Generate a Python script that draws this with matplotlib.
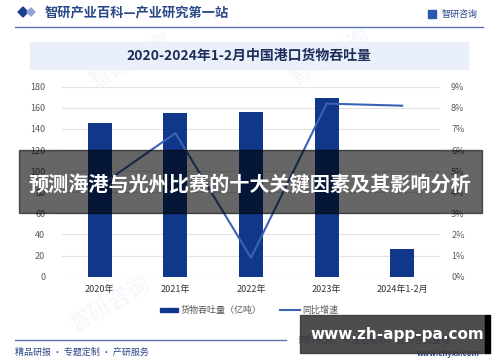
import matplotlib
matplotlib.use("Agg")
import matplotlib.pyplot as plt
from matplotlib.patches import Rectangle, Polygon
from matplotlib.lines import Line2D
import numpy as np

plt.rcParams['font.family'] = ['Noto Sans CJK SC', 'DejaVu Sans']

# data
categories = ["2020年", "2021年", "2022年", "2023年", "2024年1-2月"]
throughput = [145.5, 155.0, 156.5, 169.5, 26.0]   # 亿吨
growth = [4.3, 6.8, 0.9, 8.2, 8.1]               # %
left_ticks = [0, 20, 40, 60, 80, 100, 120, 140, 160, 180]
right_ticks = [0, 1, 2, 3, 4, 5, 6, 7, 8, 9]

W, H = 500, 362
NAVY = "#10378a"
LINE = "#3b63b5"
DARKBLUE = "#2a4788"

fig = plt.figure(figsize=(W / 100, H / 100), dpi=100)
fig.patch.set_facecolor("white")


def fx(px):
    return px / W


def fy(py):
    return 1 - py / H


# faint watermarks (only in empty areas)
for (wx, wy) in [(130, 62), (330, 58), (110, 305)]:
    fig.text(fx(wx), fy(wy), "智研咨询", fontsize=16, color="#f3f6fb",
             rotation=30, ha="center", va="center", zorder=0)

# header
fig.patches.append(Polygon([[fx(18), fy(12)], [fx(23), fy(7)], [fx(28), fy(12)], [fx(23), fy(17)]],
                           closed=True, transform=fig.transFigure, color="#1c3f8f", zorder=2))
fig.patches.append(Polygon([[fx(27), fy(12)], [fx(31), fy(8)], [fx(35), fy(12)], [fx(31), fy(16)]],
                           closed=True, transform=fig.transFigure, color="#8da4d4", zorder=2))
fig.text(fx(45), fy(13), "智研产业百科—产业研究第一站", fontsize=9.5, color=DARKBLUE,
         ha="left", va="center", fontweight="bold")
fig.text(fx(442), fy(14), "智研咨询", fontsize=6.5, color=DARKBLUE, ha="left", va="center")
fig.patches.append(Rectangle((fx(428), fy(18)), fx(8), 8 / H, transform=fig.transFigure,
                             color="#2a57b0", zorder=2))
fig.lines.append(Line2D([fx(15), fx(483)], [fy(27), fy(27)], transform=fig.transFigure,
                        color="#5a76b0", lw=1))

# title box
fig.patches.append(Rectangle((fx(30), fy(69)), fx(438), 27 / H, transform=fig.transFigure,
                             color="#e9f0fa", zorder=1))
fig.text(fx(249), fy(56), "2020-2024年1-2月中国港口货物吞吐量", fontsize=10, color="#1f2d5a",
         ha="center", va="center", fontweight="bold", zorder=3)

# main chart
ax = fig.add_axes([fx(62), fy(276.7), fx(378), (276.7 - 86.7) / H])
x = np.arange(len(categories))
ax.bar(x, throughput, width=0.32, color=NAVY, zorder=2)
ax.set_ylim(0, 180)
ax.set_yticks(left_ticks)
ax.set_xlim(-0.5, len(categories) - 0.5)
ax.set_xticks(x)
ax.set_xticklabels(categories, fontsize=6.5, color="#333333")
ax.tick_params(axis="y", labelsize=6.5, labelcolor="#595959", length=0, pad=12)
ax.tick_params(axis="x", length=0, pad=6)
ax.grid(axis="y", color="#e3e3e3", lw=0.8, zorder=0)
for s in ax.spines.values():
    s.set_visible(False)
ax.patch.set_alpha(0)

ax2 = ax.twinx()
ax2.plot(x, growth, color=LINE, lw=1.5, zorder=3)
ax2.set_ylim(0, 9)
ax2.set_yticks(right_ticks)
ax2.set_yticklabels([f"{t}%" for t in right_ticks])
ax2.tick_params(axis="y", labelsize=6.5, labelcolor="#595959", length=0, pad=8)
for s in ax2.spines.values():
    s.set_visible(False)

# legend
fig.patches.append(Rectangle((fx(160), fy(312)), fx(18), 4 / H, transform=fig.transFigure,
                             color=NAVY))
fig.text(fx(181), fy(310), "货物吞吐量（亿吨）", fontsize=6.5, color="#595959", ha="left", va="center")
fig.lines.append(Line2D([fx(280), fx(300)], [fy(310), fy(310)], transform=fig.transFigure,
                        color=LINE, lw=1.5))
fig.text(fx(302), fy(310), "同比增速", fontsize=6.5, color="#595959", ha="left", va="center")

# footer
fig.lines.append(Line2D([fx(15), fx(286)], [fy(340), fy(340)], transform=fig.transFigure,
                        color="#5a76b0", lw=1))
fig.text(fx(15), fy(352), "精品研报 · 专题定制 · 产研服务", fontsize=6.5, color=DARKBLUE,
         ha="left", va="center")
fig.text(fx(298), fy(340), "资料来源：交通运输部，智研咨询整理", fontsize=6.5, color=DARKBLUE,
         ha="left", va="center")
fig.text(fx(480), fy(353), "www.chyxx.com", fontsize=5.5, color=DARKBLUE,
         ha="right", va="center", fontweight="bold")

# dark overlay band with headline
fig.patches.append(Rectangle((fx(19), fy(213)), fx(463), 63 / H, transform=fig.transFigure,
                             color="black", alpha=0.6, zorder=10))
fig.text(fx(250), fy(185), "预测海港与光州比赛的十大关键因素及其影响分析", fontsize=14.5,
         color="white", fontweight="bold", ha="center", va="center", zorder=11)

# url box
fig.patches.append(Rectangle((fx(300), fy(353)), fx(185), 38 / H, transform=fig.transFigure,
                             color="#3a3a3a", alpha=0.9, zorder=10))
fig.patches.append(Rectangle((fx(485), fy(353)), fx(5), 38 / H, transform=fig.transFigure,
                             color="black", zorder=10))
fig.text(fx(397), fy(334), "www.zh-app-pa.com", fontsize=11, color="white",
         fontweight="bold", ha="center", va="center", zorder=11, family="DejaVu Sans")

fig.savefig("out.png", dpi=100)
